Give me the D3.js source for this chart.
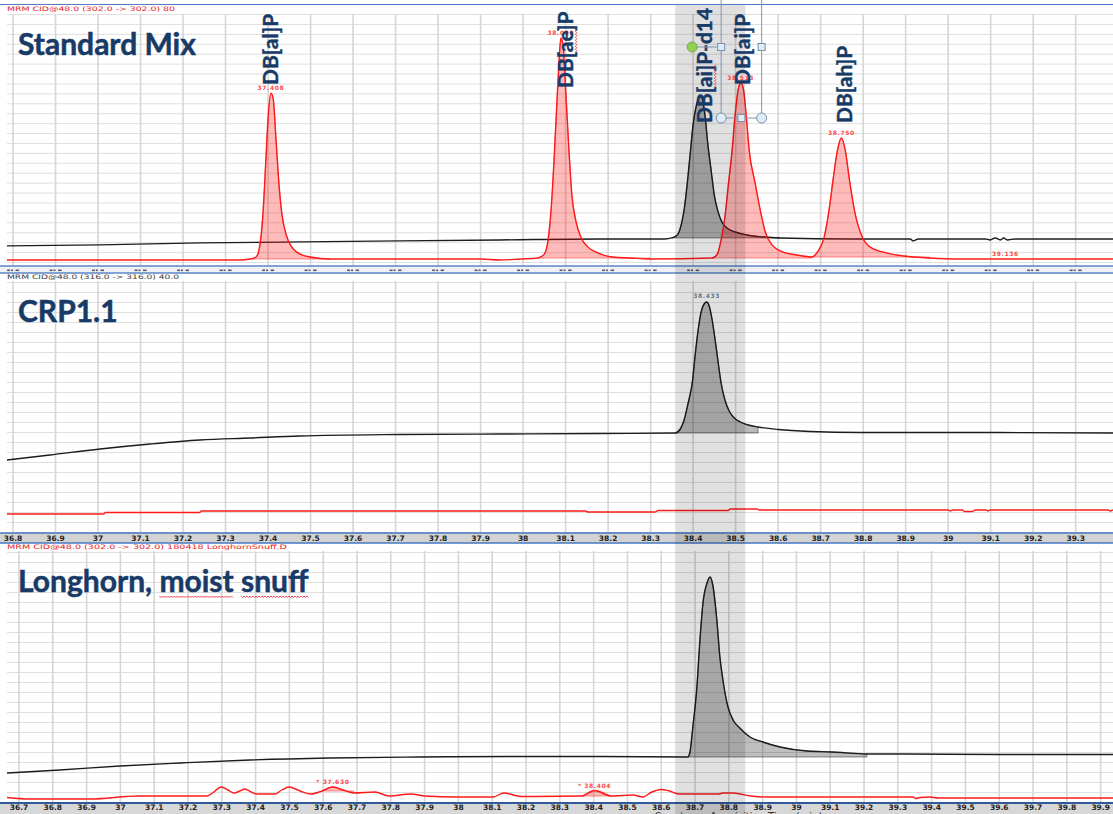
<!DOCTYPE html>
<html>
<head>
<meta charset="utf-8">
<script src="https://cdn.jsdelivr.net/npm/d3@7"></script>
<style>
  html, body { margin: 0; padding: 0; background: #fff; overflow: hidden; }
  svg { display: block; }
</style>
</head>
<body>
<svg id="chart" width="1113" height="814"></svg>
<script>
// ---------------- data ----------------
// Retention-time windows shown in each panel (min)
const timeRangeStd = [36.787, 39.389];
const timeRangeCrp = [36.787, 39.389];
const timeRangeLh  = [36.666, 39.938];

// Sample names
const sampleTitles = ["Standard Mix", "CRP1.1", "Longhorn, moist snuff"];

// Transition headers of each panel
const headerTexts = [
  "MRM CID@48.0 (302.0 -> 302.0) 80",
  "MRM CID@48.0 (316.0 -> 316.0) 40.0",
  "MRM CID@48.0 (302.0 -> 302.0) 180418 LonghornSnuff.D"
];

// Standard Mix, m/z 302 -> 302 : [time (min), % of full scale]
const stdMix302 = [
  [36.787,0.8],[37.335,0.8],[37.359,1.2],[37.373,2.0],[37.382,6.9],[37.389,19.0],[37.396,41.1],
  [37.401,57.3],[37.408,68.1],[37.413,66.1],[37.420,49.2],[37.427,31.0],[37.434,19.0],[37.444,10.9],
  [37.455,6.5],[37.472,3.6],[37.500,2.0],[37.547,1.2],[37.900,1.2],[37.947,0.8],[37.994,1.2],
  [38.036,1.6],[38.051,3.2],[38.060,8.9],[38.067,21.0],[38.074,41.1],[38.081,65.3],[38.086,81.5],
  [38.090,90.3],[38.095,87.5],[38.102,67.3],[38.109,45.2],[38.116,27.0],[38.126,16.1],[38.138,9.7],
  [38.154,6.0],[38.178,3.6],[38.211,2.0],[38.253,1.6],[38.300,1.2],[38.446,1.6],[38.458,3.2],
  [38.467,8.9],[38.476,18.1],[38.484,31.0],[38.493,45.2],[38.500,59.3],[38.507,69.4],[38.513,72.2],
  [38.519,70.2],[38.526,59.3],[38.533,45.2],[38.547,31.9],[38.559,21.0],[38.571,12.1],[38.589,6.5],
  [38.613,4.0],[38.646,2.8],[38.681,2.0],[38.695,4.4],[38.709,9.7],[38.721,21.0],[38.731,33.9],
  [38.740,44.4],[38.750,50.0],[38.759,45.2],[38.770,31.9],[38.782,19.8],[38.799,10.1],[38.818,6.0],
  [38.858,3.6],[38.898,2.4],[38.958,1.6],[39.029,1.2],[39.136,1.2],[39.389,1.2]
];
const stdMix302Windows = [[37.359,37.547],[38.036,38.300],[38.446,38.681],[38.681,38.958]];
const stdMix302Apex = [37.408, 38.090, 38.513, 38.750, 39.136];

// Standard Mix, m/z 316 -> 316 (d14 internal standard)
const stdMix316 = [
  [36.787,6.5],[37.006,6.9],[37.241,7.7],[37.476,8.1],[37.712,8.5],[37.947,8.9],[38.182,9.3],
  [38.335,9.3],[38.351,9.7],[38.364,10.9],[38.373,14.9],[38.380,21.0],[38.387,31.0],[38.394,43.1],
  [38.401,55.2],[38.409,63.3],[38.416,66.9],[38.422,66.1],[38.429,59.3],[38.436,47.2],[38.444,36.3],
  [38.451,27.0],[38.460,20.2],[38.469,16.1],[38.481,13.7],[38.500,12.1],[38.528,10.9],[38.566,10.1],
  [38.606,9.7],[38.771,9.3],[38.912,9.3],[38.919,8.5],[38.931,9.3],[39.088,9.3],[39.100,8.9],
  [39.112,9.7],[39.124,8.9],[39.132,9.7],[39.140,8.9],[39.160,9.3],[39.389,9.3]
];
const stdMix316Windows = [[38.351,38.606]];

// Compound annotations of the standard mix
const compoundNames = ["DB[al]P", "DB[ae]P", "DB[ai]P-d14", "DB[ai]P", "DB[ah]P"];
const compoundTimes = [37.408, 38.090, 38.416, 38.513, 38.750];

// CRP1.1, m/z 316 -> 316
const crp316 = [
  [36.787,28.8],[36.888,30.8],[37.006,33.2],[37.124,35.2],[37.241,36.8],[37.359,37.6],[37.476,38.4],
  [37.712,39.0],[37.947,39.2],[38.182,39.4],[38.359,39.6],[38.371,41.2],[38.380,44.8],[38.389,51.2],
  [38.400,60.8],[38.406,70.8],[38.413,80.8],[38.420,88.0],[38.427,91.2],[38.433,92.0],[38.439,90.4],
  [38.446,84.8],[38.453,76.8],[38.460,68.0],[38.467,59.6],[38.476,52.8],[38.486,48.4],[38.498,45.6],
  [38.512,44.0],[38.531,42.8],[38.554,42.0],[38.601,41.0],[38.676,40.2],[38.794,39.8],[39.006,39.8],
  [39.389,39.6]
];
const crp316Windows = [[38.359,38.554]];
const crp316Apex = [38.433];

// CRP1.1, m/z 302 -> 302
const crp302 = [
  [36.787,7.2],[37.015,7.2],[37.018,7.8],[37.241,7.8],[37.244,8.4],[38.147,8.4],[38.154,8.0],
  [38.312,8.0],[38.319,8.6],[38.484,8.6],[38.488,9.2],[38.552,9.2],[38.556,8.8],[39.001,8.8],
  [39.006,8.4],[39.013,8.8],[39.034,8.8],[39.041,8.2],[39.058,8.2],[39.065,8.8],[39.091,8.8],
  [39.095,8.4],[39.100,8.8],[39.378,8.8],[39.382,8.4],[39.389,8.8]
];

// Longhorn moist snuff, m/z 316 -> 316
const lh316 = [
  [36.666,11.6],[36.822,12.8],[37.000,14.4],[37.178,15.6],[37.385,16.8],[37.621,17.6],[37.888,18.0],
  [38.183,18.2],[38.420,18.2],[38.680,18.0],[38.686,19.6],[38.695,30.0],[38.707,46.0],[38.716,64.8],
  [38.725,79.6],[38.737,87.6],[38.746,90.0],[38.754,86.8],[38.766,72.8],[38.775,58.0],[38.784,48.8],
  [38.799,38.0],[38.814,32.8],[38.834,29.6],[38.864,26.0],[38.902,24.0],[38.953,22.0],[39.033,20.4],
  [39.109,20.0],[39.210,19.2],[39.328,19.2],[39.604,19.0],[39.938,19.0]
];
const lh316Windows = [[38.680,39.210]];

// Longhorn moist snuff, m/z 302 -> 302
const lh302 = [
  [36.666,1.8],[36.734,1.2],[36.911,1.2],[37.056,2.4],[37.257,2.4],[37.278,4.0],[37.299,6.0],
  [37.320,4.8],[37.337,3.6],[37.355,4.4],[37.370,5.2],[37.388,4.0],[37.405,3.2],[37.459,3.2],
  [37.479,4.8],[37.500,6.0],[37.533,4.4],[37.565,3.2],[37.598,4.4],[37.630,6.0],[37.660,4.8],
  [37.692,3.6],[37.754,4.0],[37.796,2.4],[37.861,3.2],[37.902,2.4],[37.997,2.0],[38.104,2.0],
  [38.136,3.6],[38.186,2.2],[38.367,2.4],[38.404,4.6],[38.453,2.4],[38.518,2.8],[38.547,2.0],
  [38.574,4.0],[38.601,5.0],[38.621,4.6],[38.654,3.2],[38.772,3.2],[38.784,3.6],[38.814,3.6],
  [38.867,2.4],[38.914,2.0],[39.346,2.0],[39.355,1.4],[39.367,1.8],[39.396,2.0],[39.420,1.6],
  [39.938,1.6]
];
const lh302Windows = [[37.598,37.692],[38.367,38.453]];
const lh302Apex = [37.630, 38.404];

// Retention window of the d14 standard, shaded across all panels
const highlightWindow = [38.359, 38.524];

// Intensity grid step (% of full scale)
const intensityGridStep = 4;

// ---------------- drawing ----------------
const W = 1113, H = 814;
const svg = d3.select("#chart");
svg.append("rect").attr("width", W).attr("height", H).attr("fill", "#fff");

const RED = "#ff1a1a", BLACK = "#1c1c1c", NAVY = "#173a66";

const panels = [
  { x: d3.scaleLinear().domain(timeRangeStd).range([7, W]),
    y: d3.scaleLinear().domain([0, 100]).range([262, 14]),
    gridTop: 14, gridBottom: 266 },
  { x: d3.scaleLinear().domain(timeRangeCrp).range([7, W]),
    y: d3.scaleLinear().domain([0, 100]).range([532, 282]),
    gridTop: 281, gridBottom: 533 },
  { x: d3.scaleLinear().domain(timeRangeLh).range([7, W]),
    y: d3.scaleLinear().domain([0, 100]).range([802, 552]),
    gridTop: 551, gridBottom: 803 }
];

function tenthTicks(domain) {
  return d3.range(Math.ceil(domain[0] * 10 - 1e-9), Math.floor(domain[1] * 10 + 1e-9) + 1).map(k => k / 10);
}
const fmtTick = d => String(+d.toFixed(1));
const fmtApex = d3.format(".3f");

// grid
const gridLayer = svg.append("g");
panels.forEach(p => {
  const ticks = tenthTicks(p.x.domain());
  const hv = d3.range(0, 100.01, intensityGridStep).filter(v => p.y(v) >= p.gridTop);
  gridLayer.append("g")
    .attr("transform", `translate(7,0)`)
    .call(d3.axisLeft(p.y).tickValues(hv).tickSize(-(W - 7)).tickFormat(""))
    .call(g => g.select(".domain").remove())
    .call(g => g.selectAll(".tick line").attr("stroke", "#dfdfdf").attr("stroke-width", 1));
  gridLayer.append("g")
    .attr("transform", `translate(0,${p.gridBottom})`)
    .call(d3.axisBottom(p.x).tickValues(ticks).tickSize(-(p.gridBottom - p.gridTop)).tickFormat(""))
    .call(g => g.select(".domain").remove())
    .call(g => g.selectAll(".tick line").attr("stroke", "#d6d6d6").attr("stroke-width", 1.6));
});

// top frame line
svg.append("line").attr("x1", 0).attr("x2", W).attr("y1", 4.5).attr("y2", 4.5)
  .attr("stroke", "#4f7cc4").attr("stroke-width", 1.2);

// axis bands
const axisLayer = svg.append("g");
// panel 1 band: the tick labels are covered by the next panel, only their tops show as small dashes
axisLayer.append("rect").attr("x", 0).attr("y", 266).attr("width", W).attr("height", 7).attr("fill", "#eef1f6");
axisLayer.append("g").attr("transform", "translate(0,269.5)")
  .call(d3.axisBottom(panels[0].x).tickValues(tenthTicks(panels[0].x.domain())).tickSize(0).tickFormat(""))
  .call(g => g.select(".domain").remove())
  .call(g => g.selectAll(".tick").each(function () {
    const t = d3.select(this);
    [[-6, 3], [-2, 2], [2.5, 3.5]].forEach(([x, w]) =>
      t.append("rect").attr("x", x).attr("y", 0).attr("width", w).attr("height", 1.6)
        .attr("fill", "#2a2a2a").attr("fill-opacity", 0.75));
  }));
[266, 273].forEach(yy => axisLayer.append("line").attr("x1", 0).attr("x2", W)
  .attr("y1", yy).attr("y2", yy).attr("stroke", "#5a86c6").attr("stroke-width", 1.3));

// panel 2 band
axisLayer.append("rect").attr("x", 0).attr("y", 533).attr("width", W).attr("height", 10).attr("fill", "#d3d3d3");
axisLayer.append("g").attr("transform", "translate(0,541)")
  .call(d3.axisBottom(panels[1].x).tickValues(tenthTicks(panels[1].x.domain())).tickSize(0).tickPadding(0).tickFormat(fmtTick))
  .call(g => g.select(".domain").remove())
  .call(g => g.selectAll("text").attr("y", 0).attr("dy", null)
    .attr("font-family", "DejaVu Sans").attr("font-weight", "bold").attr("font-size", 7.5).attr("fill", "#222"));
[533, 543].forEach(yy => axisLayer.append("line").attr("x1", 0).attr("x2", W)
  .attr("y1", yy).attr("y2", yy).attr("stroke", "#4677c2").attr("stroke-width", 1.6));

// panel 3 band
axisLayer.append("rect").attr("x", 0).attr("y", 803).attr("width", W).attr("height", 11).attr("fill", "#d7d7d7");
axisLayer.append("g").attr("transform", "translate(0,810)")
  .call(d3.axisBottom(panels[2].x).tickValues(tenthTicks(panels[2].x.domain())).tickSize(0).tickPadding(0).tickFormat(fmtTick))
  .call(g => g.select(".domain").remove())
  .call(g => g.selectAll("text").attr("y", 0).attr("dy", null)
    .attr("font-family", "DejaVu Sans").attr("font-weight", "bold").attr("font-size", 7.5).attr("fill", "#222"));
axisLayer.append("line").attr("x1", 0).attr("x2", W).attr("y1", 803).attr("y2", 803)
  .attr("stroke", "#2f5a9a").attr("stroke-width", 2);
axisLayer.append("text").attr("x", panels[2].x(38.83)).attr("y", 820)
  .attr("text-anchor", "middle").attr("font-family", "DejaVu Sans").attr("font-size", 10)
  .attr("fill", "#333").text("Counts vs. Acquisition Time (min)");

// traces
const traceLayer = svg.append("g");
const curve = d3.curveMonotoneX;
function drawTrace(p, series, windows, color, fill) {
  windows.forEach(([a, b]) => {
    const pts = series.filter(d => d[0] >= a - 1e-9 && d[0] <= b + 1e-9);
    const base = pts[0][1];
    traceLayer.append("path").datum(pts)
      .attr("d", d3.area().curve(curve).x(d => p.x(d[0])).y0(p.y(base)).y1(d => p.y(d[1])))
      .attr("fill", fill).attr("stroke", color).attr("stroke-width", 0.8).attr("stroke-opacity", 0.6);
  });
  traceLayer.append("path").datum(series)
    .attr("d", d3.line().curve(curve).x(d => p.x(d[0])).y(d => p.y(d[1])))
    .attr("fill", "none").attr("stroke", color).attr("stroke-width", 1.4).attr("stroke-linejoin", "round");
}
drawTrace(panels[0], stdMix316, stdMix316Windows, BLACK, "rgba(0,0,0,0.30)");
drawTrace(panels[0], stdMix302, stdMix302Windows, RED, "rgba(255,0,0,0.27)");
drawTrace(panels[1], crp302, [], RED, "none");
drawTrace(panels[1], crp316, crp316Windows, BLACK, "rgba(0,0,0,0.27)");
drawTrace(panels[2], lh302, lh302Windows, RED, "rgba(255,0,0,0.27)");
drawTrace(panels[2], lh316, lh316Windows, BLACK, "rgba(0,0,0,0.25)");

// highlighted retention window
const hx = panels[0].x;
svg.append("rect")
  .attr("x", hx(highlightWindow[0])).attr("width", hx(highlightWindow[1]) - hx(highlightWindow[0]))
  .attr("y", 5).attr("height", H - 5)
  .attr("fill", "rgba(0,0,0,0.12)");

// apex retention-time labels
function apexLabels(p, series, times, color, prefix, dy) {
  times.forEach(t => {
    const pt = series.find(d => Math.abs(d[0] - t) < 1e-6);
    svg.append("text")
      .attr("x", p.x(t)).attr("y", p.y(pt[1]) - dy)
      .attr("text-anchor", "middle")
      .attr("font-family", "DejaVu Sans").attr("font-weight", "bold").attr("font-size", 6)
      .attr("letter-spacing", 0.6).attr("fill", color).attr("fill-opacity", 0.85)
      .text(prefix + fmtApex(t));
  });
}
apexLabels(panels[0], stdMix302, stdMix302Apex, RED, "", 3);
apexLabels(panels[1], crp316, crp316Apex, "#4c5b72", "", 4);
apexLabels(panels[2], lh302, lh302Apex, RED, "* ", 3);

// panel headers
const headerLayout = [
  { y: 10.5, w: 168, color: "#e81c1c" },
  { y: 279, w: 172, color: "#3a3a3a" },
  { y: 549, w: 280, color: "#e81c1c" }
];
headerTexts.forEach((txt, i) => {
  svg.append("text").attr("x", 7).attr("y", headerLayout[i].y)
    .attr("font-family", "DejaVu Sans").attr("font-size", 6.2)
    .attr("textLength", headerLayout[i].w).attr("lengthAdjust", "spacingAndGlyphs")
    .attr("fill", headerLayout[i].color).text(txt);
});

// red spell-check wave
function wave(x1, y1, x2, y2) {
  const len = Math.hypot(x2 - x1, y2 - y1);
  const ux = (x2 - x1) / len, uy = (y2 - y1) / len;
  const nx = -uy, ny = ux;
  let d = `M${x1},${y1}`;
  for (let s = 1.5, i = 0; s <= len; s += 1.5, i++) {
    const o = (i % 2 === 0) ? 1.5 : 0;
    d += `L${x1 + ux * s + nx * o},${y1 + uy * s + ny * o}`;
  }
  svg.append("path").attr("d", d).attr("fill", "none").attr("stroke", "#e8383d").attr("stroke-width", 0.9);
}

// sample titles
const titleLayout = [55, 322, 592];
sampleTitles.forEach((t, i) => {
  const el = svg.append("text").attr("x", 18).attr("y", titleLayout[i])
    .attr("font-family", "Lato, 'Open Sans', sans-serif").attr("font-weight", "bold")
    .attr("font-size", 30).attr("fill", NAVY)
    .attr("stroke", NAVY).attr("stroke-width", 0.5).text(t);
  if (i === 2) {
    const node = el.node();
    const s1 = node.getStartPositionOfChar(10).x, e1 = node.getEndPositionOfChar(14).x;
    const s2 = node.getStartPositionOfChar(16).x, e2 = node.getEndPositionOfChar(20).x;
    wave(s1, titleLayout[i] + 4, e1, titleLayout[i] + 4);
    wave(s2, titleLayout[i] + 4, e2, titleLayout[i] + 4);
  }
});

// rotated compound labels
const nameLayout = [
  { dx: -1, y: 85 },
  { dx: 4, y: 88 },
  { dx: 4.5, y: 123 },
  { dx: 1, y: 85 },
  { dx: 2.5, y: 123 }
];
const nameNodes = [];
compoundNames.forEach((n, i) => {
  const cx = panels[0].x(compoundTimes[i]) + nameLayout[i].dx;
  const bx = cx + 8;
  const el = svg.append("text")
    .attr("transform", `translate(${bx},${nameLayout[i].y}) rotate(-90)`)
    .attr("font-family", "Lato, 'Open Sans', sans-serif").attr("font-weight", "bold")
    .attr("font-size", 21).attr("fill", NAVY)
    .attr("stroke", NAVY).attr("stroke-width", 0.4).text(n);
  nameNodes.push({ el, bx, y0: nameLayout[i].y, cx });
});
// spell-check marks under the "ae" / "ai" parts
[[1, 3, 4], [2, 3, 5]].forEach(([k, c1, c2]) => {
  const { el, bx, y0 } = nameNodes[k];
  const node = el.node();
  const s = node.getStartPositionOfChar(c1).x, e = node.getEndPositionOfChar(c2).x;
  wave(bx + 2.5, y0 - s, bx + 2.5, y0 - e);
});

// text-box selection frame around the DB[ai]P label
const sel = svg.append("g");
const sx = nameNodes[3].cx;
const left = sx - 20.5, right = sx + 20, bottom = 118, mid = 47;
const frameColor = "#8294ad";
sel.append("line").attr("x1", left).attr("x2", left).attr("y1", 0).attr("y2", bottom).attr("stroke", frameColor);
sel.append("line").attr("x1", right).attr("x2", right).attr("y1", 0).attr("y2", bottom).attr("stroke", frameColor);
sel.append("line").attr("x1", left).attr("x2", right).attr("y1", bottom).attr("y2", bottom).attr("stroke", frameColor);
sel.append("line").attr("x1", left - 29).attr("x2", left).attr("y1", mid).attr("y2", mid).attr("stroke", frameColor);
sel.append("circle").attr("cx", left - 29).attr("cy", mid).attr("r", 5)
  .attr("fill", "#92d050").attr("stroke", "#7f9f5a").attr("stroke-width", 1);
[[left, mid], [right, mid], [(left + right) / 2, bottom]].forEach(([x, y]) =>
  sel.append("rect").attr("x", x - 3.5).attr("y", y - 3.5).attr("width", 7).attr("height", 7)
    .attr("fill", "#dcecf8").attr("stroke", "#7d8ea6").attr("stroke-width", 1));
[[left, bottom], [right, bottom]].forEach(([x, y]) =>
  sel.append("circle").attr("cx", x).attr("cy", y).attr("r", 5)
    .attr("fill", "#dcecf8").attr("stroke", "#7d8ea6").attr("stroke-width", 1));
</script>
</body>
</html>
